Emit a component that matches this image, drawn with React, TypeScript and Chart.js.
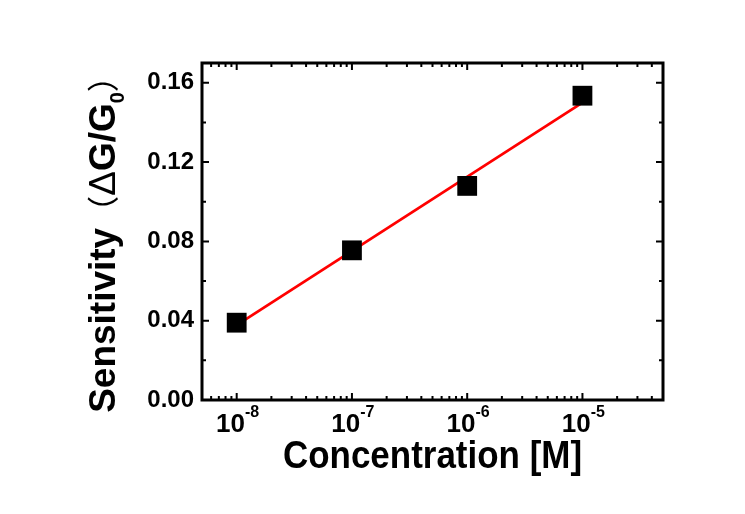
import React, { useEffect, useRef } from "react";
import { Chart, registerables } from "chart.js";

Chart.register(...registerables);

// ---- data ----
const concentrations = [1e-8, 1e-7, 1e-6, 1e-5];
const sensitivity = [0.039, 0.0755, 0.108, 0.1535];
const fitConcentrations = [1e-8, 1e-5];
const fitSensitivity = [0.0378, 0.15];
const xTickExponents = [-8, -7, -6, -5];
const yTickValues = [0, 0.04, 0.08, 0.12, 0.16];
const yMinorTickValues = [0.02, 0.06, 0.1, 0.14];
const xTitle = "Concentration [M]";
const yTitleMain = "Sensitivity";
const yTitleDelta = "Δ";
const yTitleSymbol = "G/G";
const yTitleSub = "0";

const FONT = "'Liberation Sans', Arial, sans-serif";
const CJK = "'Noto Sans CJK SC', sans-serif";

const framePlugin = {
  id: "framePlugin",
  afterDraw(chart: any) {
    const ctx = chart.ctx as CanvasRenderingContext2D;
    const { left, right, top, bottom } = chart.chartArea;
    const xs = chart.scales.x;
    const ys = chart.scales.y;
    ctx.save();
    ctx.strokeStyle = "#000";
    ctx.fillStyle = "#000";
    // frame
    ctx.lineWidth = 3;
    ctx.strokeRect(left, top, right - left, bottom - top);

    // ticks
    ctx.lineWidth = 2;
    const majorLen = 7;
    const minorLen = 4;
    const tickV = (x: number, len: number) => {
      ctx.beginPath();
      ctx.moveTo(x, bottom);
      ctx.lineTo(x, bottom - len);
      ctx.moveTo(x, top);
      ctx.lineTo(x, top + len);
      ctx.stroke();
    };
    const tickH = (y: number, len: number) => {
      ctx.beginPath();
      ctx.moveTo(left, y);
      ctx.lineTo(left + len, y);
      ctx.moveTo(right, y);
      ctx.lineTo(right - len, y);
      ctx.stroke();
    };
    const xmin = xs.min;
    const xmax = xs.max;
    xTickExponents.forEach((e) => tickV(xs.getPixelForValue(Math.pow(10, e)), majorLen));
    for (let d = -10; d <= -4; d++) {
      for (let k = 2; k <= 9; k++) {
        const v = k * Math.pow(10, d);
        if (v > xmin * 1.0001 && v < xmax * 0.9999) tickV(xs.getPixelForValue(v), minorLen);
      }
    }
    yTickValues.forEach((v) => {
      if (v > 0) tickH(ys.getPixelForValue(v), majorLen);
    });
    yMinorTickValues.forEach((v) => tickH(ys.getPixelForValue(v), minorLen));

    // x tick labels with superscripts
    ctx.textBaseline = "alphabetic";
    ctx.textAlign = "left";
    xTickExponents.forEach((e) => {
      const px = xs.getPixelForValue(Math.pow(10, e));
      ctx.font = `bold 26px ${FONT}`;
      const wb = ctx.measureText("10").width;
      ctx.font = `bold 16px ${FONT}`;
      const es = String(e);
      const we = ctx.measureText(es).width;
      const x0 = px - (wb + we) / 2 + 1;
      ctx.font = `bold 26px ${FONT}`;
      ctx.fillText("10", x0, 432);
      ctx.font = `bold 16px ${FONT}`;
      ctx.fillText(es, x0 + wb, 417);
    });

    // x title
    const sx = 0.92;
    ctx.font = `bold 38px ${FONT}`;
    const tw = ctx.measureText(xTitle).width * sx;
    ctx.save();
    ctx.translate((left + right) / 2 - tw / 2, 468);
    ctx.scale(sx, 1);
    ctx.fillText(xTitle, 0, 0);
    ctx.restore();

    // y title (rotated)
    const pieces = [
      { t: yTitleMain, f: `bold 37px ${FONT}`, dy: 0 },
      { t: "（", f: `32px ${CJK}`, dy: 0 },
      { t: yTitleDelta, f: `37px ${FONT}`, dy: 0 },
      { t: yTitleSymbol, f: `bold 37px ${FONT}`, dy: 0 },
      { t: yTitleSub, f: `bold 20px ${FONT}`, dy: 9 },
      { t: "）", f: `32px ${CJK}`, dy: 0 },
    ];
    const ysx = 1.0;
    let total = 0;
    const widths = pieces.map((p) => {
      ctx.font = p.f;
      const w = ctx.measureText(p.t).width * ysx;
      total += w;
      return w;
    });
    ctx.save();
    ctx.translate(115, (top + bottom) / 2 + total / 2 + 5);
    ctx.rotate(-Math.PI / 2);
    let cx = 0;
    pieces.forEach((p, i) => {
      ctx.font = p.f;
      ctx.save();
      ctx.translate(cx, p.dy);
      ctx.scale(ysx, 1);
      ctx.fillText(p.t, 0, 0);
      ctx.restore();
      cx += widths[i];
    });
    ctx.restore();

    ctx.restore();
  },
};

export default function App() {
  const ref = useRef<HTMLCanvasElement | null>(null);
  useEffect(() => {
    if (!ref.current) return;
    const points = concentrations.map((x, i) => ({ x, y: sensitivity[i] }));
    const fit = fitConcentrations.map((x, i) => ({ x, y: fitSensitivity[i] }));
    const chart = new Chart(ref.current, {
      type: "scatter",
      data: {
        datasets: [
          {
            data: points,
            pointStyle: "rect",
            pointRadius: 14,
            pointBackgroundColor: "#000",
            pointBorderColor: "#000",
            pointBorderWidth: 0,
            showLine: false,
          },
          {
            data: fit,
            showLine: true,
            borderColor: "#ff0000",
            borderWidth: 2.8,
            pointRadius: 0,
            fill: false,
          },
        ],
      } as any,
      options: {
        responsive: false,
        animation: false,
        devicePixelRatio: 1,
        layout: { padding: { top: 63, right: 82, left: 0, bottom: 0 } },
        plugins: { legend: { display: false }, tooltip: { enabled: false } },
        scales: {
          x: {
            type: "logarithmic",
            min: 5e-9,
            max: 5e-5,
            ticks: { display: false },
            grid: { display: false },
            border: { display: false },
            afterFit: (s: any) => {
              s.height = 114;
            },
          },
          y: {
            min: 0,
            max: 0.17,
            afterBuildTicks: (s: any) => {
              s.ticks = yTickValues.map((v) => ({ value: v }));
            },
            ticks: {
              color: "#000",
              padding: 8,
              font: { family: FONT, size: 24, weight: "bold" },
              callback: (v: any) => Number(v).toFixed(2),
            },
            grid: { display: false, drawTicks: false },
            border: { display: false },
            afterFit: (s: any) => {
              s.width = 202;
            },
          },
        },
      } as any,
      plugins: [framePlugin],
    });
    return () => chart.destroy();
  }, []);
  return (
    <div style={{ position: "fixed", left: 0, top: 0, width: 745, height: 514, background: "#fff" }}>
      <canvas ref={ref} width={745} height={514} style={{ display: "block" }} />
    </div>
  );
}
